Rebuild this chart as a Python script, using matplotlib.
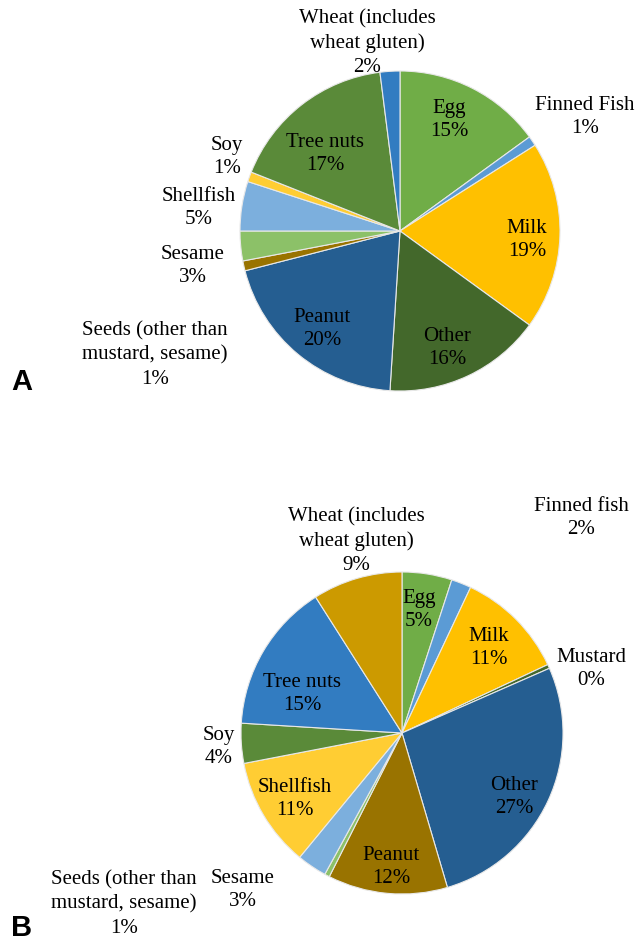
import matplotlib.pyplot as plt

W, H = 639, 942

# --- panel A data ---
a_labels = ['Egg', 'Finned Fish', 'Milk', 'Other', 'Peanut',
            'Seeds (other than\nmustard, sesame)', 'Sesame', 'Shellfish',
            'Soy', 'Tree nuts', 'Wheat (includes\nwheat gluten)']
a_values = [15, 1, 19, 16, 20, 1, 3, 5, 1, 17, 2]
a_colors = ['#70AD47', '#5B9BD5', '#FFC000', '#43682B', '#255E91', '#997300',
            '#8CC168', '#7CAFDD', '#FFCD33', '#5A8A39', '#327CC1']

# --- panel B data ---
b_labels = ['Egg', 'Finned fish', 'Milk', 'Mustard', 'Other', 'Peanut',
            'Seeds (other than\nmustard, sesame)', 'Sesame', 'Shellfish',
            'Soy', 'Tree nuts', 'Wheat (includes\nwheat gluten)']
b_values = [5, 2, 11, 0.4, 27, 12, 0.5, 3, 11, 4, 15, 9]
b_pct = ['5%', '2%', '11%', '0%', '27%', '12%', '1%', '3%', '11%', '4%', '15%', '9%']
b_colors = ['#70AD47', '#5B9BD5', '#FFC000', '#43682B', '#255E91', '#997300',
            '#8CC168', '#7CAFDD', '#FFCD33', '#5A8A39', '#327CC1', '#CC9A00']

# label centres in pixels (layout only)
a_pos = [(449, 120), (585, 117), (527, 240), (447, 348), (322, 329),
         (155, 355), (193, 266), (199, 208), (227, 157), (325, 154), (367, 43)]
b_pos = [(419, 610), (581, 518), (489, 648), (591, 669), (514, 797),
         (391, 867), (124, 904), (243, 890), (295, 799), (219, 747),
         (302, 694), (356, 541)]

fig = plt.figure(figsize=(W / 100, H / 100), dpi=100)
ax = fig.add_axes([0, 0, 1, 1])

serif = ['Liberation Serif', 'DejaVu Serif']


def draw_pie(values, colors, centre, radius):
    ax.pie(values, colors=colors, startangle=90, counterclock=False,
           center=(centre[0], H - centre[1]), radius=radius,
           wedgeprops=dict(edgecolor='#E8E8E8', linewidth=0.8),
           frame=True)


draw_pie(a_values, a_colors, (400, 231), 160)
draw_pie(b_values, b_colors, (402, 733), 161)
ax.set_xlim(0, W)
ax.set_ylim(0, H)
ax.set_aspect('equal')
ax.axis('off')

for lab, v, (x, y) in zip(a_labels, a_values, a_pos):
    ax.text(x, H - y, f'{lab}\n{v}%', ha='center', va='center',
            fontsize=15, family=serif, linespacing=1.35)

for lab, p, (x, y) in zip(b_labels, b_pct, b_pos):
    ax.text(x, H - y, f'{lab}\n{p}', ha='center', va='center',
            fontsize=15, family=serif, linespacing=1.35)

ax.text(11, H - 390, 'A', ha='left', va='baseline', fontsize=21,
        fontweight='bold', family=['Liberation Sans', 'DejaVu Sans'])
ax.text(11, H - 936, 'B', ha='left', va='baseline', fontsize=21,
        fontweight='bold', family=['Liberation Sans', 'DejaVu Sans'])

fig.savefig('out.png', dpi=100)
